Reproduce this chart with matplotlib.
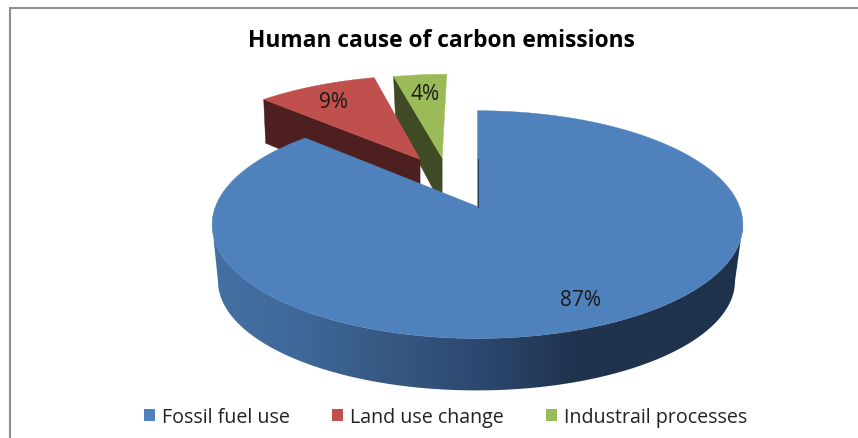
import numpy as np
import matplotlib
matplotlib.use("Agg")
import matplotlib.pyplot as plt
from matplotlib.patches import Polygon, Patch
from matplotlib.colors import to_rgb

title = "Human cause of carbon emissions"
categories = ["Fossil fuel use", "Land use change", "Industrail processes"]
values = [87, 9, 4]
top_colors = ["#4F81BD", "#C0504D", "#9BBB59"]
wall_colors = [None, "#4D1F1E", "#3F4B24"]
explode_uv = [(0.0, 0.0), (-0.235, 0.455), (-0.145, 0.47)]
label_xy = [(580.5, 301), (333, 103), (425, 94)]

# perspective of the tilted pie disc, pixel coordinates
CX, CY, A, B, P, H = 477.5, 207.5, 262.0, 111.0, 0.159, 45.0


def project(u, v):
    d = 1 + P * v
    return CX + A * u / d, CY - B * v / d, H / d


fig = plt.figure(figsize=(8.58, 4.39), dpi=100)
ax = fig.add_axes([0, 0, 1, 1])
ax.set_xlim(0, 858)
ax.set_ylim(439, 0)
ax.axis("off")

ax.plot([9.5, 9.5, 858], [439, 8.5, 8.5], color="#8f8f8f", lw=1.5, solid_joinstyle="miter", zorder=1)

fr = np.array(values, dtype=float) / sum(values)
edges = np.concatenate([[0], np.cumsum(fr)]) * 2 * np.pi


def rim(i, n=240):
    th = np.linspace(edges[i], edges[i + 1], n)
    du, dv = explode_uv[i]
    return du + np.sin(th), dv + np.cos(th)


def top_polygon(i, z):
    du, dv = explode_uv[i]
    u, v = rim(i)
    u = np.concatenate([[du], u])
    v = np.concatenate([[dv], v])
    x, y, _ = project(u, v)
    ax.add_patch(Polygon(np.c_[x, y], closed=True, fc=top_colors[i], ec=top_colors[i], lw=0.3, zorder=z))


def cut_wall(i, z):
    du, dv = explode_uv[i]
    u0, v0 = du + np.sin(edges[i]), dv + np.cos(edges[i])
    x1, y1, h1 = project(u0, v0)
    x2, y2, h2 = project(du, dv)
    k = 1.15
    ax.add_patch(Polygon([(x1, y1), (x2, y2), (x2, y2 + k * h2), (x1 + 2, y1 + k * h1)], closed=True,
                         fc=wall_colors[i], ec=wall_colors[i], lw=0.3, zorder=z))


# green slice, then red, then the large blue slice in front
cut_wall(2, 2)
top_polygon(2, 3)
cut_wall(1, 4)
top_polygon(1, 5)

# outer wall of the blue slice, shaded left to right; the lower rim is a slightly smaller disc
stops_x = [212, 300, 400, 478, 570, 744]
stops_c = ["#4470A3", "#3F6899", "#35567F", "#2D4870", "#20344F", "#1E324C"]
stops_rgb = np.array([to_rgb(c) for c in stops_c])
u, v = rim(0, 800)
x, y, h = project(u, v)
xb = 476.5 + (x - 477.5) * 0.974
yb = 225 + (y - 225) * 0.96 + 56.5
i_r, i_l = int(np.argmax(x)), int(np.argmin(x))
wall_xy = np.r_[np.c_[x[i_r:i_l + 1], y[i_r:i_l + 1]], np.c_[xb[i_r:i_l + 1], yb[i_r:i_l + 1]][::-1]]
wall_patch = Polygon(wall_xy, closed=True, fc="none", ec="none", transform=ax.transData)
ax.add_patch(wall_patch)
gx = np.arange(205, 752)
grad = np.stack([np.interp(gx, stops_x, stops_rgb[:, c]) for c in range(3)], axis=-1)[None, :, :]
im = ax.imshow(grad, extent=(205, 752, 400, 200), aspect="auto", zorder=6, interpolation="bilinear")
im.set_clip_path(wall_patch)
ax.set_xlim(0, 858)
ax.set_ylim(439, 0)

top_polygon(0, 7)
x0, y0, _ = project(0.0, 0.0)
x1, y1, _ = project(0.0, 1.0)
ax.plot([x0, x0 - 0.5 * (x0 - x1)], [y0, (y0 + y1) / 2], color="#27405F", lw=0.8, zorder=8)

for val, (lx, ly) in zip(values, label_xy):
    ax.text(lx, ly, f"{val}%", ha="center", va="center", fontsize=15, family="Open Sans", color="#1a1a1a", zorder=9)

ax.text(441, 41, title, ha="center", va="center", fontsize=16.4, family="Open Sans", fontweight="bold",
        color="#000000", zorder=9)

handles = [Patch(fc=c, ec="none") for c in top_colors]
ax.legend(handles, categories, ncol=3, loc="center", bbox_to_anchor=(445.5 / 858, 1 - 418 / 439), frameon=False,
          prop={"family": "Open Sans", "size": 14.1}, handlelength=0.56, handleheight=0.56, handletextpad=0.36,
          columnspacing=2.15, labelcolor="#222222", borderpad=0)

fig.savefig("out.png", dpi=100)
